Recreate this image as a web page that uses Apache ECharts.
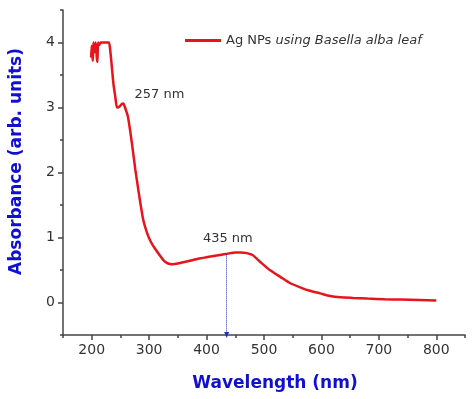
<!DOCTYPE html>
<html>
<head>
<meta charset="utf-8">
<script src="https://cdn.jsdelivr.net/npm/echarts@6/dist/echarts.min.js"></script>
<style>
  html, body { margin: 0; padding: 0; background: #fff; }
  #chart { width: 474px; height: 399px; }
</style>
</head>
<body>
<div id="chart"></div>
<script>
// UV-vis spectrum, Ag NPs
const wavelength = [199, 200, 201, 202, 203, 205, 207, 209, 210, 211, 213, 216, 220, 225, 230, 232, 235, 238, 241, 244, 248, 252, 255, 258, 263, 270, 276, 284, 290, 296, 302, 310, 319, 326, 333, 340, 350, 365, 390, 415, 436, 450, 460, 470, 480, 494, 510, 529, 545, 564, 580, 598, 615, 633, 655, 680, 710, 738, 770, 800];
const absorbance = [3.77, 3.95, 3.8, 3.72, 4.0, 3.85, 4.0, 3.75, 3.7, 4.0, 3.96, 4.0, 4.0, 4.0, 4.0, 3.9, 3.63, 3.35, 3.17, 3.0, 3.01, 3.05, 3.06, 3.0, 2.86, 2.45, 2.04, 1.57, 1.26, 1.08, 0.95, 0.83, 0.72, 0.64, 0.6, 0.59, 0.6, 0.63, 0.68, 0.72, 0.75, 0.77, 0.77, 0.76, 0.73, 0.62, 0.5, 0.39, 0.3, 0.23, 0.18, 0.14, 0.1, 0.08, 0.07, 0.06, 0.05, 0.045, 0.038, 0.03];
const xMajor = [200, 300, 400, 500, 600, 700, 800];
const xMinor = [150, 250, 350, 450, 550, 650, 750, 850];
const yMajor = [0, 1, 2, 3, 4];
const yMinor = [-0.5, 0.5, 1.5, 2.5, 3.5, 4.5];
const peaks = [{ name: '257 nm', x: 318, y: 3.2 }, { name: '435 nm', x: 437, y: 0.99 }];
const markerLambda = 435;

const chart = echarts.init(document.getElementById('chart'));
const axisColor = '#444';
const font = 'DejaVu Sans';

const xBase = { type: 'value', min: 150, max: 850, splitLine: { show: false } };
const yBase = { type: 'value', min: -0.5, max: 4.5, splitLine: { show: false } };

chart.setOption({
  animation: false,
  grid: { left: 62, right: 9, top: 10, bottom: 64 },
  legend: {
    data: ['Ag NPs using Basella alba leaf'],
    left: 180, top: 29,
    icon: 'rect',
    itemWidth: 36, itemHeight: 3, itemGap: 4,
    formatter: () => '{a|Ag NPs }{b|using Basella alba leaf}',
    textStyle: {
      rich: {
        a: { fontFamily: font, fontSize: 13, color: '#333' },
        b: { fontFamily: font, fontSize: 13, color: '#333', fontStyle: 'italic' }
      }
    }
  },
  xAxis: [
    Object.assign({}, xBase, {
      name: 'Wavelength (nm)', nameLocation: 'middle', nameGap: 40,
      nameTextStyle: { color: '#1010d0', fontSize: 17, fontWeight: 'bold', fontFamily: font, padding: [0, 0, 0, 22] },
      axisLine: { onZero: false, lineStyle: { color: axisColor, width: 1.5 } },
      axisTick: { customValues: xMajor, length: 5, lineStyle: { color: axisColor, width: 1.5 } },
      axisLabel: { customValues: xMajor, color: '#333', fontSize: 14, fontFamily: font, margin: 8 }
    }),
    Object.assign({}, xBase, {
      position: 'bottom',
      axisLine: { show: false, onZero: false },
      axisTick: { customValues: xMinor, length: 3, lineStyle: { color: axisColor, width: 1.5 } },
      axisLabel: { show: false }
    })
  ],
  yAxis: [
    Object.assign({}, yBase, {
      name: 'Absorbance (arb. units)', nameLocation: 'middle', nameGap: 38,
      nameTextStyle: { color: '#1010d0', fontSize: 17, fontWeight: 'bold', fontFamily: font, padding: [0, 0, 0, 22] },
      axisLine: { show: true, onZero: false, lineStyle: { color: axisColor, width: 1.5 } },
      axisTick: { show: true, customValues: yMajor, length: 5, lineStyle: { color: axisColor, width: 1.5 } },
      axisLabel: { customValues: yMajor, color: '#333', fontSize: 14, fontFamily: font, margin: 8 }
    }),
    Object.assign({}, yBase, {
      position: 'left',
      axisLine: { show: false, onZero: false },
      axisTick: { show: true, customValues: yMinor, length: 3, lineStyle: { color: axisColor, width: 1.5 } },
      axisLabel: { show: false }
    })
  ],
  series: [{
    name: 'Ag NPs using Basella alba leaf',
    type: 'line',
    data: wavelength.map((w, i) => [w, absorbance[i]]),
    symbol: 'none',
    smooth: 0.2,
    lineStyle: { color: '#e8141b', width: 2.5 },
    itemStyle: { color: '#e8141b' },
    markPoint: {
      symbol: 'circle', symbolSize: 0,
      label: { show: true, position: 'inside', color: '#333', fontSize: 13, fontFamily: font, formatter: p => p.name },
      data: peaks.map(p => ({ name: p.name, coord: [p.x, p.y] }))
    },
    markLine: {
      silent: true,
      symbol: ['none', 'triangle'], symbolSize: [5, 6],
      label: { show: false },
      lineStyle: { color: '#2030c0', type: 'dotted', width: 1 },
      data: [[{ coord: [markerLambda, 0.74] }, { coord: [markerLambda, -0.5] }]]
    }
  }]
});
</script>
</body>
</html>
